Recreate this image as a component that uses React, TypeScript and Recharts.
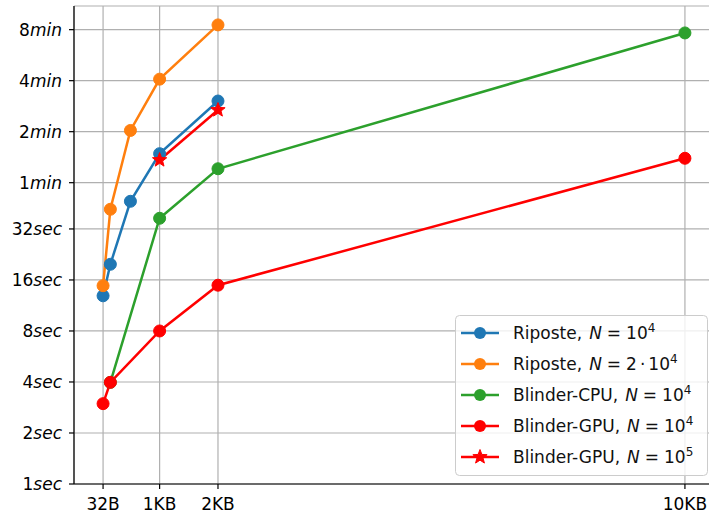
import React from 'react';
import { LineChart, Line, XAxis, YAxis, CartesianGrid } from 'recharts';

// message sizes in bytes, times in seconds
const ripN4Sizes = [32, 160, 512, 1024, 2048];
const ripN4Times = [12.9, 19.8, 46.6, 89, 182];
const ripN2Sizes = [32, 160, 512, 1024, 2048];
const ripN2Times = [14.8, 41.8, 122, 245, 512];
const cpuSizes = [160, 1024, 2048, 10240];
const cpuTimes = [3.98, 37, 72.5, 459];
const gpuSizes = [32, 160, 1024, 2048, 10240];
const gpuTimes = [2.98, 3.98, 8, 14.9, 83.6];
const gpu5Sizes = [1024, 2048];
const gpu5Times = [81.6, 161];

const xTicks = [32, 1024, 2048, 10240];
const xTickLabels = ['32B', '1KB', '2KB', '10KB'];
const yTicks = [1, 2, 4, 8, 16, 32, 60, 120, 240, 480];
const yTickNums = ['1', '2', '4', '8', '16', '32', '1', '2', '4', '8'];
const yTickUnits = ['sec', 'sec', 'sec', 'sec', 'sec', 'sec', 'min', 'min', 'min', 'min'];

const seriesNames = ['Riposte,', 'Riposte,', 'Blinder-CPU,', 'Blinder-GPU,', 'Blinder-GPU,'];
const seriesFactor = ['', '2', '', '', ''];
const seriesExp = ['4', '4', '4', '4', '5'];
const seriesColors = ['#1f77b4', '#ff7f0e', '#2ca02c', '#ff0000', '#ff0000'];
const seriesStar = [false, false, false, false, true];

const toPoints = (xs: number[], ys: number[]) => xs.map((x, i) => ({ x, y: ys[i] }));
const seriesData = [
  toPoints(ripN4Sizes, ripN4Times),
  toPoints(ripN2Sizes, ripN2Times),
  toPoints(cpuSizes, cpuTimes),
  toPoints(gpuSizes, gpuTimes),
  toPoints(gpu5Sizes, gpu5Times),
];

const FONT = "'DejaVu Sans', sans-serif";
const FS = 17;

const starPoints = (cx: number, cy: number, ro: number, ri: number) => {
  const pts: string[] = [];
  for (let k = 0; k < 10; k++) {
    const a = ((-90 + k * 36) * Math.PI) / 180;
    const r = k % 2 === 0 ? ro : ri;
    pts.push(`${cx + r * Math.cos(a)},${cy + r * Math.sin(a)}`);
  }
  return pts.join(' ');
};

const makeDot = (color: string, star: boolean) => (props: any) => {
  const { cx, cy, index } = props;
  if (cx == null || cy == null) return <g key={`d${index}`} />;
  if (star) {
    return <polygon key={`d${index}`} points={starPoints(cx, cy, 7.5, 3.2)} fill={color} stroke={color} strokeWidth={1} />;
  }
  return <circle key={`d${index}`} cx={cx} cy={cy} r={6} fill={color} stroke={color} strokeWidth={1} />;
};

const YTick = (props: any) => {
  const { x, y, payload } = props;
  const i = yTicks.indexOf(payload.value);
  return (
    <text x={x} y={y} dy={6} textAnchor="end" fontFamily={FONT} fontSize={FS} fill="#000">
      <tspan>{yTickNums[i]}</tspan>
      <tspan fontStyle="italic">{yTickUnits[i]}</tspan>
    </text>
  );
};

const XTick = (props: any) => {
  const { x, y, payload } = props;
  const i = xTicks.indexOf(payload.value);
  return (
    <text x={x} y={y} dy={12} textAnchor="middle" fontFamily={FONT} fontSize={FS} fill="#000">
      {xTickLabels[i]}
    </text>
  );
};

const Legend = () => {
  const left = 455;
  const top = 315;
  const w = 252;
  const h = 160;
  return (
    <svg width={709} height={517} style={{ position: 'absolute', left: 0, top: 0, pointerEvents: 'none' }}>
      <rect x={left + 0.5} y={top + 0.5} width={w} height={h} rx={4} ry={4} fill="#ffffff" fillOpacity={0.8} stroke="#cccccc" strokeWidth={1} />
      {seriesNames.map((name, i) => {
        const cy = 333 + i * 31;
        const color = seriesColors[i];
        return (
          <g key={i}>
            <line x1={461} x2={499} y1={cy} y2={cy} stroke={color} strokeWidth={2.5} />
            {seriesStar[i] ? (
              <polygon points={starPoints(480, cy, 7.5, 3.2)} fill={color} stroke={color} strokeWidth={1} />
            ) : (
              <circle cx={480} cy={cy} r={6} fill={color} />
            )}
            <text x={513} y={cy + 6} fontFamily={FONT} fontSize={FS} fill="#111">
              <tspan>{name}</tspan>
              <tspan dx={7} fontStyle="italic">N</tspan>
              <tspan dx={5}>=</tspan>
              {seriesFactor[i] ? (
                <>
                  <tspan dx={5}>{seriesFactor[i]}</tspan>
                  <tspan dx={3}>·</tspan>
                  <tspan dx={3}>10</tspan>
                </>
              ) : (
                <tspan dx={5}>10</tspan>
              )}
              <tspan dy={-7} fontSize={12}>{seriesExp[i]}</tspan>
            </text>
          </g>
        );
      })}
    </svg>
  );
};

export default function App() {
  return (
    <div style={{ position: 'absolute', left: 0, top: 0, width: 709, height: 517, overflow: 'hidden', background: '#fff' }}>
      <LineChart width={720} height={517} margin={{ top: 6, right: 6, left: 0, bottom: 0 }}>
        <CartesianGrid stroke="#b0b0b0" strokeWidth={1.2} />
        <XAxis
          dataKey="x"
          type="number"
          domain={[-478, 10750]}
          ticks={xTicks}
          allowDataOverflow
          height={33}
          tickSize={5}
          tickMargin={9}
          tick={XTick}
          axisLine={{ stroke: '#000', strokeWidth: 1.2 }}
          tickLine={{ stroke: '#000', strokeWidth: 1.2 }}
        />
        <XAxis
          xAxisId="top"
          orientation="top"
          dataKey="x"
          type="number"
          domain={[-478, 10750]}
          height={0}
          tick={false}
          tickLine={false}
          axisLine={{ stroke: '#000', strokeWidth: 1.2 }}
        />
        <YAxis
          type="number"
          scale="log"
          domain={[1, 662]}
          allowDataOverflow
          ticks={yTicks}
          width={74}
          tickSize={5}
          tickMargin={7}
          tick={YTick}
          axisLine={{ stroke: '#000', strokeWidth: 1.2 }}
          tickLine={{ stroke: '#000', strokeWidth: 1.2 }}
        />
        {seriesData.map((d, i) => (
          <Line
            key={i}
            data={d}
            dataKey="y"
            stroke={seriesColors[i]}
            strokeWidth={2.5}
            dot={makeDot(seriesColors[i], seriesStar[i])}
            activeDot={false}
            isAnimationActive={false}
            type="linear"
          />
        ))}
      </LineChart>
      <Legend />
    </div>
  );
}
